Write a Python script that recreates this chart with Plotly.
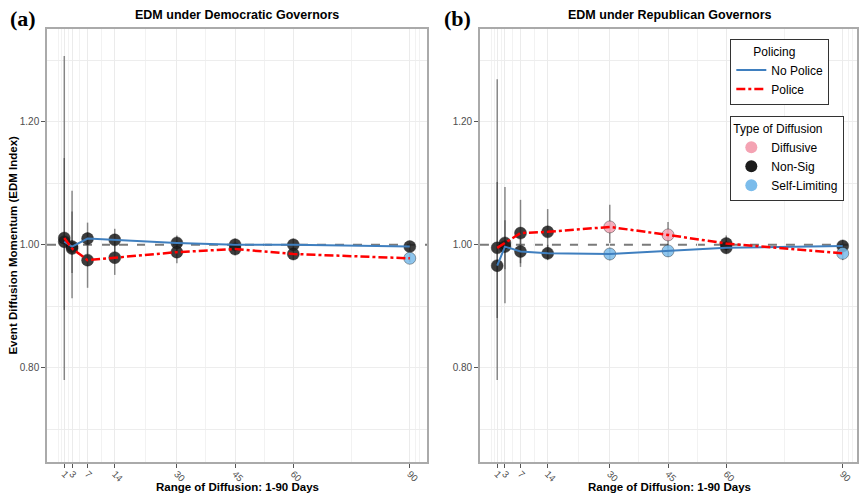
import plotly.graph_objects as go

# ---------------- data ----------------
days = [1, 3, 7, 14, 30, 45, 60, 90]
tick_labels = ["1", "3", "7", "14", "30", "45", "60", "90"]

# Democratic governors
dem_nopolice = [1.005, 0.997, 1.010, 1.008, 1.003, 1.000, 1.000, 0.997]
dem_nopolice_lo = [0.894, 0.954, 0.984, 0.988, 0.990, 0.990, 0.990, 0.990]
dem_nopolice_hi = [1.141, 1.054, 1.036, 1.026, 1.015, 1.010, 1.010, 1.004]
dem_nopolice_type = ["Non-Sig"] * 8

dem_police = [1.011, 0.994, 0.975, 0.979, 0.988, 0.993, 0.985, 0.978]
dem_police_lo = [0.780, 0.913, 0.930, 0.951, 0.970, 0.983, 0.975, 0.972]
dem_police_hi = [1.307, 1.088, 1.020, 1.005, 1.005, 1.003, 0.995, 0.985]
dem_police_type = ["Non-Sig"] * 7 + ["Self-Limiting"]

# Republican governors
rep_nopolice = [0.966, 0.997, 0.989, 0.986, 0.985, 0.990, 0.995, 0.998]
rep_nopolice_lo = [0.881, 0.960, 0.970, 0.975, 0.975, 0.980, 0.990, 0.990]
rep_nopolice_hi = [1.102, 1.040, 1.010, 1.000, 0.995, 1.000, 1.010, 1.008]
rep_nopolice_type = ["Non-Sig", "Non-Sig", "Non-Sig", "Non-Sig",
                     "Self-Limiting", "Self-Limiting", "Non-Sig", "Non-Sig"]

rep_police = [0.995, 1.003, 1.019, 1.021, 1.029, 1.016, 1.002, 0.986]
rep_police_lo = [0.780, 0.905, 0.964, 0.978, 1.003, 0.995, 0.985, 0.975]
rep_police_hi = [1.269, 1.094, 1.073, 1.058, 1.065, 1.037, 1.015, 0.995]
rep_police_type = ["Non-Sig", "Non-Sig", "Non-Sig", "Non-Sig",
                   "Diffusive", "Diffusive", "Non-Sig", "Self-Limiting"]

type_names = ["Diffusive", "Non-Sig", "Self-Limiting"]
type_colors = {"Diffusive": "#F4A3B3", "Non-Sig": "#1C1C1C", "Self-Limiting": "#7BBCEB"}

BLUE = "#3F7FBF"
RED = "#FF0000"
FONT = "Liberation Sans, Arial, sans-serif"

fig = go.Figure()


def add_panel(xa, ya, nop, nop_lo, nop_hi, nop_t, pol, pol_lo, pol_hi, pol_t, show):
    # error bars
    for lo, hi in ((nop_lo, nop_hi), (pol_lo, pol_hi)):
        ex, ey = [], []
        for d, a, b in zip(days, lo, hi):
            ex += [d, d, None]
            ey += [a, b, None]
        fig.add_trace(go.Scatter(x=ex, y=ey, mode="lines", xaxis=xa, yaxis=ya,
                                 line=dict(color="rgba(50,50,50,0.55)", width=1.5),
                                 showlegend=False, hoverinfo="skip"))
    # points
    for vals, types in ((nop, nop_t), (pol, pol_t)):
        fig.add_trace(go.Scatter(x=days, y=vals, mode="markers", xaxis=xa, yaxis=ya,
                                 marker=dict(size=12, color=[type_colors[t] for t in types],
                                             opacity=0.85,
                                             line=dict(width=0.8, color="rgba(0,0,0,0.5)")),
                                 showlegend=False))
    # lines
    fig.add_trace(go.Scatter(x=days, y=nop, mode="lines", xaxis=xa, yaxis=ya,
                             line=dict(color=BLUE, width=2), name="No Police",
                             legend="legend", showlegend=show))
    fig.add_trace(go.Scatter(x=days, y=pol, mode="lines", xaxis=xa, yaxis=ya,
                             line=dict(color=RED, width=2.5, dash="dashdot"), name="Police",
                             legend="legend", showlegend=show))


add_panel("x", "y", dem_nopolice, dem_nopolice_lo, dem_nopolice_hi, dem_nopolice_type,
          dem_police, dem_police_lo, dem_police_hi, dem_police_type, True)
add_panel("x2", "y2", rep_nopolice, rep_nopolice_lo, rep_nopolice_hi, rep_nopolice_type,
          rep_police, rep_police_lo, rep_police_hi, rep_police_type, False)

for t in type_names:
    fig.add_trace(go.Scatter(x=[None], y=[None], mode="markers", name=t,
                             marker=dict(size=12, color=type_colors[t]),
                             legend="legend2", showlegend=True))

grid_minor_x = [-0.5, 0.25, 2, 5, 10.5, 22, 37.5, 52.5, 75, 91.5, 92.5]
grid_y = [0.7, 0.8, 0.9, 1.1, 1.2, 1.3]

xcommon = dict(tickmode="array", tickvals=days, ticktext=tick_labels, tickangle=45,
               showgrid=True, gridcolor="#EBEBEB", gridwidth=1,
               minor=dict(tickvals=grid_minor_x, showgrid=True, gridcolor="#F2F2F2",
                          gridwidth=0.6),
               showline=True, linecolor="#AAAAAA", linewidth=1.5, mirror=True,
               ticks="outside", ticklen=4, tickcolor="#555555", tickwidth=1,
               tickfont=dict(family=FONT, size=9.5, color="#4D4D4D"),
               ticklabelstandoff=-3,
               zeroline=False)
ycommon = dict(range=[0.6468, 1.3508], tickmode="array", tickvals=[0.8, 1.0, 1.2],
               ticktext=["0.80", "1.00", "1.20"],
               showgrid=False,
               minor=dict(tickvals=grid_y, showgrid=True, gridcolor="#EDEDED",
                          gridwidth=0.9),
               showline=True, linecolor="#AAAAAA", linewidth=1.5, mirror=True,
               ticks="outside", ticklen=4, tickcolor="#555555", tickwidth=1,
               tickfont=dict(family=FONT, size=10, color="#4D4D4D"),
               zeroline=False)

fig.update_layout(
    width=859, height=496,
    margin=dict(l=47, r=0, t=29, b=34),
    paper_bgcolor="white", plot_bgcolor="white",
    font=dict(family=FONT, color="#000000"),
    xaxis=dict(domain=[0, 0.46921], range=[-3.45, 94.45], anchor="y", **xcommon),
    xaxis2=dict(domain=[0.53448, 1.0], range=[-3.45, 93.68], anchor="y2", **xcommon),
    yaxis=dict(domain=[0, 1], anchor="x", **ycommon),
    yaxis2=dict(domain=[0, 1], anchor="x2", **ycommon),
    legend=dict(x=0.8436, y=0.977, xanchor="left", yanchor="top",
                bgcolor="white", bordercolor="#333333", borderwidth=1,
                title=dict(text="      Policing", side="top",
                           font=dict(family=FONT, size=12, color="#000")),
                font=dict(family=FONT, size=12, color="#000"),
                itemwidth=30, tracegroupgap=0),
    legend2=dict(x=0.8436, y=0.799, xanchor="left", yanchor="top",
                 bgcolor="white", bordercolor="#333333", borderwidth=1,
                 title=dict(text="Type of Diffusion", side="top",
                            font=dict(family=FONT, size=12, color="#000")),
                 font=dict(family=FONT, size=12, color="#000"),
                 itemwidth=30, tracegroupgap=0),
    showlegend=True,
)

for xr, yr in (("x domain", "y"), ("x2 domain", "y2")):
    fig.add_shape(type="line", xref=xr, yref=yr, x0=0, x1=1, y0=1.0, y1=1.0,
                  line=dict(color="#7A7A7A", width=2, dash="dash"), layer="below")

ann = [
    dict(text="<b>(a)</b>", x=-0.0296, y=1.0254, font=dict(family="Liberation Serif, serif", size=22)),
    dict(text="<b>(b)</b>", x=0.5074, y=1.0254, font=dict(family="Liberation Serif, serif", size=22)),
    dict(text="<b>EDM under Democratic Governors</b>", x=0.2346, y=1.0323, font=dict(family=FONT, size=12.5)),
    dict(text="<b>EDM under Republican Governors</b>", x=0.769, y=1.0323, font=dict(family=FONT, size=12.5)),
    dict(text="<b>Range of Diffusion: 1-90 Days</b>", x=0.2346, y=-0.0577, font=dict(family=FONT, size=11.5)),
    dict(text="<b>Range of Diffusion: 1-90 Days</b>", x=0.769, y=-0.0577, font=dict(family=FONT, size=11.5)),
    dict(text="<b>Event Diffusion Momentum (EDM Index)</b>", x=-0.0431, y=0.5, textangle=-90,
         font=dict(family=FONT, size=11.5)),
]
for a in ann:
    fig.add_annotation(xref="paper", yref="paper", showarrow=False,
                       xanchor="center", yanchor="middle", **a)

fig.write_html("out.html", config={"displayModeBar": False},
               post_script="document.body.style.margin='0';document.body.style.overflow='hidden';")
